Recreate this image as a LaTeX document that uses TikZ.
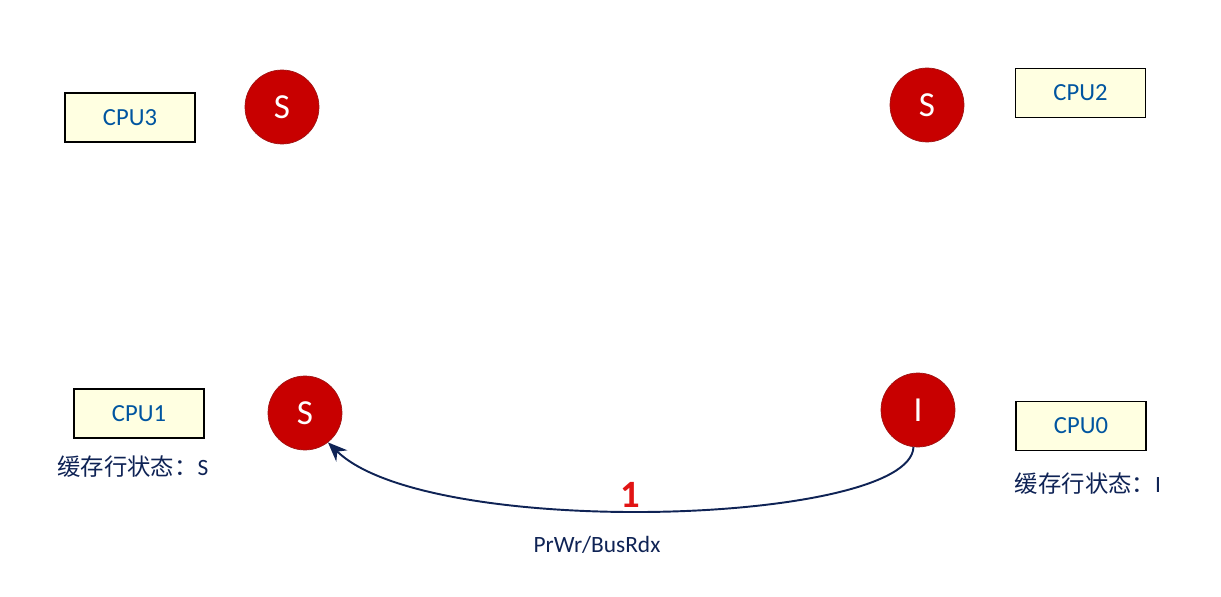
\documentclass[tikz,border=0pt]{standalone}
\usepackage{fontspec}
\setmainfont{Carlito}
\newfontfamily\cjk{Noto Sans CJK SC}
\usetikzlibrary{calc, arrows.meta}
\definecolor{cpufill}{RGB}{255,255,225}
\definecolor{cputext}{RGB}{0,85,160}
\definecolor{statered}{RGB}{200,0,0}
\definecolor{stateedge}{RGB}{160,20,20}
\definecolor{steptext}{RGB}{225,20,20}
\definecolor{navy}{RGB}{15,35,85}
\tikzset{
  cpu/.style = {draw, line width=.9pt, fill=cpufill, text=cputext, minimum width=2.6cm, minimum height=.98cm, font=\fontsize{14}{16}\selectfont},
  state/.style = {circle, draw=stateedge, fill=statered, text=white, minimum size=1.48cm, inner sep=0pt, font=\fontsize{20}{22}\selectfont},
  note/.style = {text=navy, font=\fontsize{13.3}{15}\selectfont}
}
\begin{document}
\begin{tikzpicture}[x=.02cm, y=-.02cm]
\useasboundingbox (0, 0) rectangle (1221, 597);
\coordinate (C3) at (130, 117.5);
\coordinate (C2) at (1080.5, 93);
\coordinate (C1) at (139, 413.5);
\coordinate (C0) at (1081, 426);
\node at (C3) [name=cpu3, cpu] {CPU3};
\node at (C2) [name=cpu2, cpu] {CPU2};
\node at (C1) [name=cpu1, cpu] {CPU1};
\node at (C0) [name=cpu0, cpu] {CPU0};
\node at (282, 107) [name=s3, state] {S};
\node at (927, 105) [name=s2, state] {S};
\node at (305, 413) [name=s1, state] {S};
\node at (918, 410) [name=s0, state] {I};
\node at (133, 467) [name=n1, note] {{\cjk 缓存行状态：}S};
\node at (1088, 484) [name=n0, note] {{\cjk 缓存行状态：}I};
%\draw [->] (s0) to [bend left] (s1);
\draw [navy, line width=1.1pt, -{Stealth[length=11pt, width=9pt]}] (s0.-97) .. controls ($(s0.-97)+(-3, 78)$) and ($(s1.-52)+(100, 98)$) .. (s1.-52);
\node at (630, 495) [name=step1, text=steptext, font=\fontsize{22}{24}\bfseries\selectfont] {1};
\node at (597, 545) [name=op, note] {PrWr/BusRdx};
\end{tikzpicture}
\end{document}
